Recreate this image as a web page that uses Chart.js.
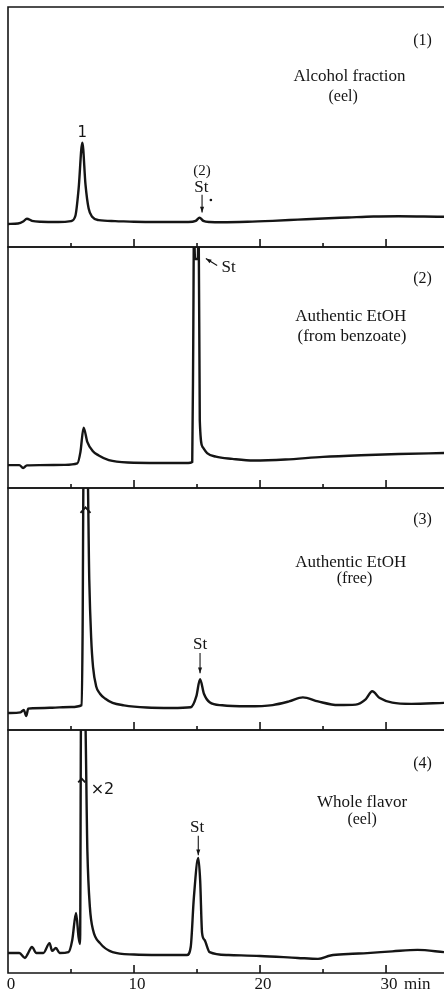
<!DOCTYPE html>
<html>
<head>
<meta charset="utf-8">
<script src="https://cdn.jsdelivr.net/npm/chart.js@4.4.1/dist/chart.umd.min.js"></script>
<style>
  html, body { margin: 0; padding: 0; background: #fff; }
  #wrap { position: relative; width: 444px; height: 996px; overflow: hidden; }
  #wrap canvas { position: absolute; left: 0; }
</style>
</head>
<body>
<div id="wrap">
  <canvas id="panel1"></canvas>
  <canvas id="panel2"></canvas>
  <canvas id="panel3"></canvas>
  <canvas id="panel4"></canvas>
</div>
<script>
// retention time (min) and detector response (% of panel height)
const p1Time = [0, 0.8, 1.2, 1.5, 1.9, 2.6, 4.0, 5.0, 5.35, 5.6, 5.9, 6.15, 6.4, 6.7, 7.2, 8.5, 10, 12, 14.3, 14.9, 15.2, 15.5, 16, 17, 19, 21, 23, 25, 27, 29, 31, 33, 34.6];
const p1Signal = [9.6, 9.8, 10.6, 11.8, 10.9, 10.5, 10.4, 10.8, 13, 24, 43.5, 26, 16, 12.5, 11.2, 10.8, 10.5, 10.4, 10.4, 10.9, 12.2, 10.9, 10.4, 10.3, 10.5, 10.9, 11.4, 11.9, 12.3, 12.7, 12.8, 12.7, 12.6];

const p2Time = [0, 0.9, 1.2, 1.5, 2.5, 4.5, 5.5, 5.75, 6.0, 6.3, 6.7, 7.2, 8.0, 9.5, 12, 14.3, 14.62, 14.7, 14.76, 14.84, 15.06, 15.13, 15.22, 15.45, 15.8, 16.5, 17.8, 19.5, 22, 25, 28, 31, 34.6];
const p2Signal = [9.5, 9.5, 8.3, 9.4, 9.5, 9.6, 10.2, 15, 25, 19, 15.5, 13.5, 11.6, 10.6, 10.4, 10.4, 10.8, 60, 110, 95, 95, 110, 28, 17, 14.5, 13, 12.1, 11.4, 11.8, 12.9, 13.6, 14.1, 14.5];

const p3Time = [0, 1.0, 1.25, 1.45, 1.6, 2.0, 3.5, 5.0, 5.85, 5.92, 6.0, 6.3, 6.45, 6.6, 6.75, 7.0, 7.3, 7.7, 8.3, 9.2, 11, 13, 14.5, 14.95, 15.24, 15.55, 16.0, 17, 19, 21, 22.3, 23.4, 24.6, 26.2, 27.6, 28.4, 28.9, 29.5, 30.5, 32, 34.6];
const p3Signal = [7.0, 7.3, 8.3, 5.8, 8.8, 9.0, 9.2, 9.5, 10.3, 40, 110, 110, 62, 38, 26, 18, 15, 13, 11.2, 10.2, 9.3, 9.1, 9.4, 14, 21, 15, 11.5, 10.2, 9.8, 10.3, 11.8, 13.5, 11.8, 10.3, 10.5, 12.8, 16.0, 13.2, 11.3, 10.8, 11.2];

const p4Time = [0, 0.9, 1.35, 1.6, 1.9, 2.25, 2.8, 3.3, 3.5, 3.8, 4.1, 4.8, 5.1, 5.4, 5.6, 5.72, 5.8, 6.1, 6.3, 6.5, 6.75, 7.3, 8.3, 10, 12, 14.2, 14.5, 14.75, 15.1, 15.25, 15.4, 15.6, 16.0, 17.5, 20, 23, 24.6, 25.6, 27, 28.5, 30.5, 32.5, 34.6];
const p4Signal = [8.2, 8.2, 6.2, 8.2, 10.7, 8.2, 8.2, 12.3, 9.1, 10.3, 8.2, 8.6, 13.6, 24.7, 14.8, 11.9, 110, 110, 50, 27, 17.7, 12.3, 8.6, 7.6, 7.4, 7.4, 10.7, 31, 47.3, 38, 16.5, 13.6, 8.6, 7.4, 7.0, 6.2, 5.8, 7.2, 7.8, 8.2, 8.9, 9.5, 8.6];

// x axis
const majorTicks = [10, 20, 30];
const minorTicks = [5, 15, 25];
const tickValues = [0, 10, 20, 30];
const tickLabels = ['0', '10', '20', '30'];
const axisUnit = 'min';

const ink = '#151515';
const serif = '"Liberation Serif", "DejaVu Serif", serif';
const sans = '"DejaVu Sans", sans-serif';

// panel edges in page pixels (top of 1st .. bottom of 4th)
const edges = [7, 247, 488, 730, 973];

// frame, ticks and the hand-written labels of the original figure
const framePlugin = {
    id: 'frame',
    afterDatasetsDraw(chart, args, opts) {
        const { ctx, chartArea: a, scales: { x, y } } = chart;
        ctx.save();
        ctx.strokeStyle = ink;
        ctx.fillStyle = ink;
        ctx.lineWidth = 1.6;
        ctx.beginPath();
        ctx.moveTo(a.left, a.top); ctx.lineTo(a.right, a.top);
        ctx.moveTo(a.left, a.top - 0.8); ctx.lineTo(a.left, a.bottom + 0.8);
        ctx.moveTo(a.left, a.bottom); ctx.lineTo(a.right, a.bottom);
        majorTicks.forEach(v => {
            const px = x.getPixelForValue(v);
            ctx.moveTo(px, a.bottom); ctx.lineTo(px, a.bottom - 8);
        });
        minorTicks.forEach(v => {
            const px = x.getPixelForValue(v);
            ctx.moveTo(px, a.bottom); ctx.lineTo(px, a.bottom - 4);
        });
        ctx.stroke();

        ctx.textAlign = 'center';
        ctx.textBaseline = 'middle';
        (opts.texts || []).forEach(t => {
            ctx.font = t.font;
            ctx.fillText(t.text, x.getPixelForValue(t.t), y.getPixelForValue(t.v));
        });

        ctx.lineWidth = 1.1;
        (opts.arrows || []).forEach(ar => {
            const x0 = x.getPixelForValue(ar.from[0]), y0 = y.getPixelForValue(ar.from[1]);
            const x1 = x.getPixelForValue(ar.to[0]), y1 = y.getPixelForValue(ar.to[1]);
            const ang = Math.atan2(y1 - y0, x1 - x0);
            ctx.beginPath();
            ctx.moveTo(x0, y0); ctx.lineTo(x1, y1);
            ctx.stroke();
            ctx.beginPath();
            ctx.moveTo(x1, y1);
            ctx.lineTo(x1 - 6 * Math.cos(ang - 0.35), y1 - 6 * Math.sin(ang - 0.35));
            ctx.lineTo(x1 - 6 * Math.cos(ang + 0.35), y1 - 6 * Math.sin(ang + 0.35));
            ctx.closePath();
            ctx.fill();
        });

        // open up-chevrons marking the off-scale peaks
        ctx.lineWidth = 1.8;
        (opts.chevrons || []).forEach(c => {
            const px = x.getPixelForValue(c.t), py = y.getPixelForValue(c.v);
            ctx.beginPath();
            ctx.moveTo(px - c.w, py + c.w * 1.1);
            ctx.lineTo(px, py);
            ctx.lineTo(px + c.w, py + c.w * 1.1);
            ctx.stroke();
        });

        (opts.dots || []).forEach(d => {
            ctx.beginPath();
            ctx.arc(x.getPixelForValue(d[0]), y.getPixelForValue(d[1]), 1.3, 0, Math.PI * 2);
            ctx.fill();
        });

        if (opts.tickText) {
            ctx.font = '17px ' + serif;
            ctx.textBaseline = 'middle';
            tickValues.forEach((v, i) => {
                const px = x.getPixelForValue(v);
                ctx.textAlign = 'center';
                ctx.fillText(tickLabels[i], i === 0 ? px + 3 : px + 3, a.bottom + 12);
                if (i === tickValues.length - 1) {
                    ctx.textAlign = 'left';
                    ctx.fillText(axisUnit, px + 18, a.bottom + 12);
                }
            });
        }
        ctx.restore();
    }
};

function makePanel(id, times, signal, idx, marks) {
    const canvas = document.getElementById(id);
    const padTop = 4;
    const padBottom = idx === 3 ? 23 : 4;
    canvas.width = 444;
    canvas.height = edges[idx + 1] - edges[idx] + padTop + padBottom;
    canvas.style.top = (edges[idx] - padTop) + 'px';
    return new Chart(canvas, {
        type: 'line',
        data: {
            datasets: [{
                data: times.map((t, i) => ({ x: t, y: signal[i] })),
                borderColor: ink,
                borderWidth: 2.4,
                pointRadius: 0,
                fill: false,
                cubicInterpolationMode: 'monotone',
            }]
        },
        options: {
            responsive: false,
            animation: false,
            layout: { padding: { left: 8, right: 0, top: padTop, bottom: padBottom } },
            plugins: {
                legend: { display: false },
                tooltip: { enabled: false },
                frame: marks
            },
            scales: {
                x: { type: 'linear', min: 0, max: 34.6, display: false },
                y: { min: 0, max: 100, display: false }
            }
        },
        plugins: [framePlugin]
    });
}

makePanel('panel1', p1Time, p1Signal, 0, {
    texts: [
        { text: '(1)', t: 32.9, v: 86, font: '16px ' + serif },
        { text: 'Alcohol fraction', t: 27.1, v: 71, font: '17px ' + serif },
        { text: '(eel)', t: 26.6, v: 62.5, font: '16px ' + serif },
        { text: '1', t: 5.9, v: 47.5, font: '15px ' + sans },
        { text: '(2)', t: 15.4, v: 31.7, font: '15px ' + serif },
        { text: 'St', t: 15.35, v: 24.6, font: '17px ' + serif }
    ],
    arrows: [{ from: [15.4, 21.8], to: [15.4, 14.4] }],
    dots: [[16.1, 19.6]]
});

makePanel('panel2', p2Time, p2Signal, 1, {
    texts: [
        { text: '(2)', t: 32.9, v: 86.7, font: '16px ' + serif },
        { text: 'Authentic EtOH', t: 27.2, v: 71, font: '17px ' + serif },
        { text: '(from benzoate)', t: 27.3, v: 62.7, font: '17px ' + serif },
        { text: 'St', t: 17.5, v: 91.3, font: '17px ' + serif }
    ],
    arrows: [{ from: [16.6, 92.3], to: [15.7, 95.2] }]
});

makePanel('panel3', p3Time, p3Signal, 2, {
    texts: [
        { text: '(3)', t: 32.9, v: 86.8, font: '16px ' + serif },
        { text: 'Authentic EtOH', t: 27.2, v: 69.4, font: '17px ' + serif },
        { text: '(free)', t: 27.5, v: 62.4, font: '16px ' + serif },
        { text: 'St', t: 15.24, v: 35.5, font: '17px ' + serif }
    ],
    arrows: [{ from: [15.24, 31.8], to: [15.24, 23.5] }],
    chevrons: [{ t: 6.15, v: 92, w: 5 }]
});

makePanel('panel4', p4Time, p4Signal, 3, {
    texts: [
        { text: '(4)', t: 32.9, v: 86, font: '16px ' + serif },
        { text: 'Whole flavor', t: 28.1, v: 70, font: '17px ' + serif },
        { text: '(eel)', t: 28.1, v: 63, font: '16px ' + serif },
        { text: 'St', t: 15.0, v: 59.7, font: '17px ' + serif },
        { text: '×2', t: 7.5, v: 75.3, font: '16px ' + sans }
    ],
    arrows: [{ from: [15.1, 56.5], to: [15.1, 48.5] }],
    chevrons: [{ t: 5.85, v: 80, w: 3.5 }],
    tickText: true
});
</script>
</body>
</html>
